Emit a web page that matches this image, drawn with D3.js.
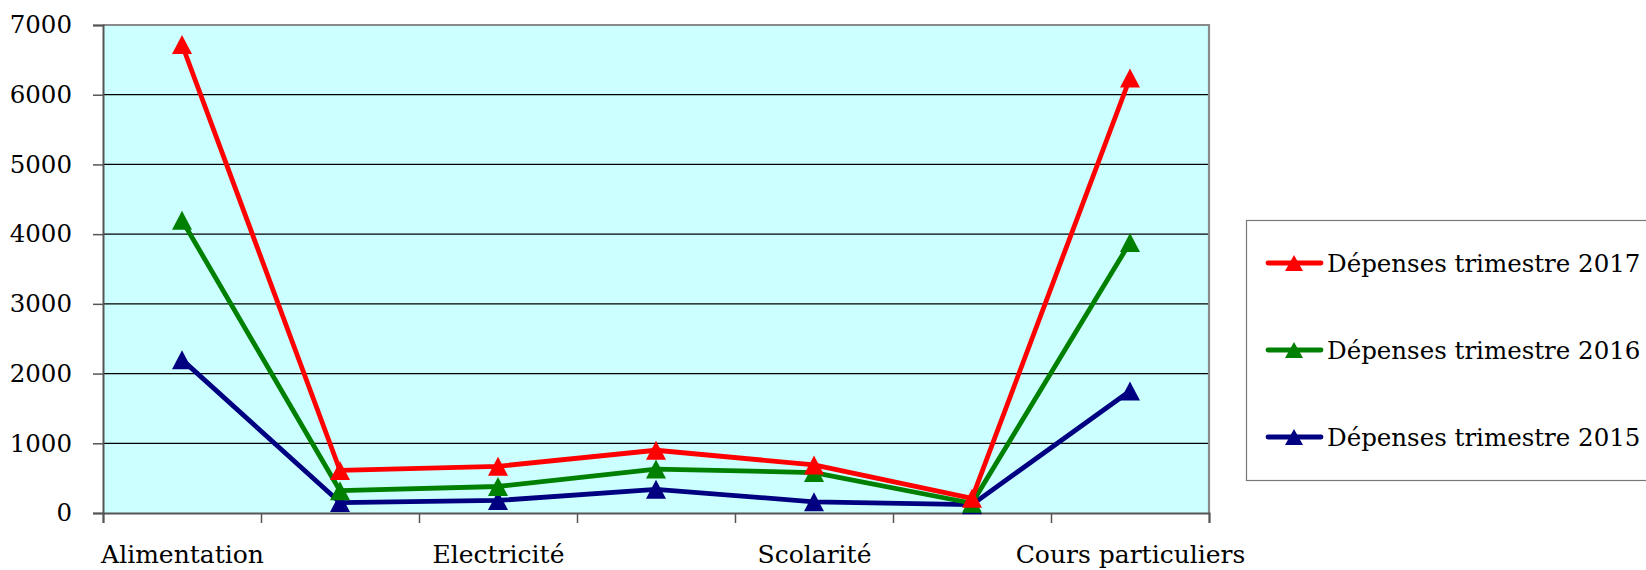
<!DOCTYPE html>
<html><head><meta charset="utf-8">
<script src="https://cdn.jsdelivr.net/npm/d3@7"></script>
<style>html,body{margin:0;padding:0;background:#fff;overflow:hidden}</style>
</head><body>
<svg id="c" width="1646" height="570"></svg>
<script>
// ---- data ----
// Only every other category label is printed on the source chart; the hidden ones are left blank.
const categories = ["Alimentation", "", "Electricité", "", "Scolarité", "", "Cours particuliers"];
const seriesNames = ["Dépenses trimestre 2017", "Dépenses trimestre 2016", "Dépenses trimestre 2015"];
const values2017 = [6720, 610, 670, 900, 690, 210, 6240];
const values2016 = [4200, 320, 380, 630, 580, 140, 3880];
const values2015 = [2200, 150, 180, 340, 160, 120, 1750];
const yTicks = [0, 1000, 2000, 3000, 4000, 5000, 6000, 7000];
const colors = ["#ff0000", "#008000", "#000080"];

const series = [
  {name: seriesNames[0], values: values2017, color: colors[0]},
  {name: seriesNames[1], values: values2016, color: colors[1]},
  {name: seriesNames[2], values: values2015, color: colors[2]}
];

const FONT = "DejaVu Serif, serif";
const svg = d3.select("#c");
const L = 103, R = 1209, T = 25, B = 513;

const x = d3.scaleLinear().domain([0, categories.length]).range([L, R]);
const y = d3.scaleLinear().domain([0, 7000]).range([B, T]);

// plot background
svg.append("rect").attr("x", L).attr("y", T).attr("width", R - L).attr("height", B - T)
  .attr("fill", "#ccffff");

// gridlines
svg.append("g").selectAll("line").data(yTicks.slice(1)).join("line")
  .attr("x1", L).attr("x2", R).attr("y1", d => y(d)).attr("y2", d => y(d))
  .attr("stroke", "#000").attr("stroke-width", 1.2);

// top & right border
svg.append("path").attr("d", `M${L},${T}H${R}V${B}`).attr("fill", "none")
  .attr("stroke", "#8a8a8a").attr("stroke-width", 2.2);

// y axis
const yAxis = svg.append("g").attr("transform", `translate(${L},0)`)
  .call(d3.axisLeft(y).tickValues(yTicks).tickSize(10).tickPadding(21).tickFormat(d3.format("d")));
yAxis.select(".domain").attr("stroke", "#555").attr("stroke-width", 2);
yAxis.selectAll(".tick line").attr("stroke", "#555").attr("stroke-width", 1.5);
yAxis.selectAll("text").attr("font-family", FONT).attr("font-size", 24.5).attr("fill", "#000");

// x axis: tick marks at category boundaries
const xAxis = svg.append("g").attr("transform", `translate(0,${B})`)
  .call(d3.axisBottom(x).tickValues(d3.range(categories.length + 1)).tickSize(10).tickFormat(""));
xAxis.select(".domain").attr("stroke", "#555").attr("stroke-width", 2);
xAxis.selectAll(".tick line").attr("stroke", "#555").attr("stroke-width", 1.5);

// x labels centered in categories
const labelIdx = categories.map((c, i) => i).filter(i => categories[i] !== "");
const xLab = svg.append("g").attr("transform", `translate(0,${B})`)
  .call(d3.axisBottom(x).tickValues(labelIdx.map(i => i + 0.5)).tickSize(0)
    .tickFormat(v => categories[Math.round(v - 0.5)]));
xLab.select(".domain").remove();
xLab.selectAll("text").attr("font-family", FONT).attr("font-size", 25).attr("fill", "#000")
  .attr("y", 50).attr("dy", 0);

// triangle marker centred on its bounding box
const TW = 20, TH = 19;
const triPath = `M0,${-TH / 2}L${TW / 2},${TH / 2}L${-TW / 2},${TH / 2}Z`;

// lines & markers (2015 first, 2017 on top)
const line = d3.line().x((d, i) => x(i + 0.5)).y(d => y(d));
[...series].reverse().forEach(s => {
  svg.append("path").datum(s.values).attr("d", line).attr("fill", "none")
    .attr("stroke", s.color).attr("stroke-width", 4.8).attr("stroke-linejoin", "round");
  svg.append("g").selectAll("path").data(s.values).join("path")
    .attr("d", triPath).attr("fill", s.color)
    .attr("transform", (d, i) => `translate(${x(i + 0.5)},${y(d)})`);
});

// legend
const lg = svg.append("g");
lg.append("rect").attr("x", 1246.5).attr("y", 220.5).attr("width", 420).attr("height", 260)
  .attr("fill", "#fff").attr("stroke", "#777").attr("stroke-width", 1.2);
const rows = [263, 350, 437];
series.forEach((s, i) => {
  const g = lg.append("g").attr("transform", `translate(0,${rows[i]})`);
  g.append("line").attr("x1", 1268).attr("x2", 1321).attr("y1", 0).attr("y2", 0)
    .attr("stroke", s.color).attr("stroke-width", 4.8).attr("stroke-linecap", "round");
  g.append("path").attr("d", `M0,-8L9,8L-9,8Z`).attr("fill", s.color).attr("transform", "translate(1294,0)");
  g.append("text").attr("x", 1327).attr("y", 9).text(s.name)
    .attr("font-family", FONT).attr("font-size", 24.5).attr("fill", "#000");
});
</script>
</body></html>
